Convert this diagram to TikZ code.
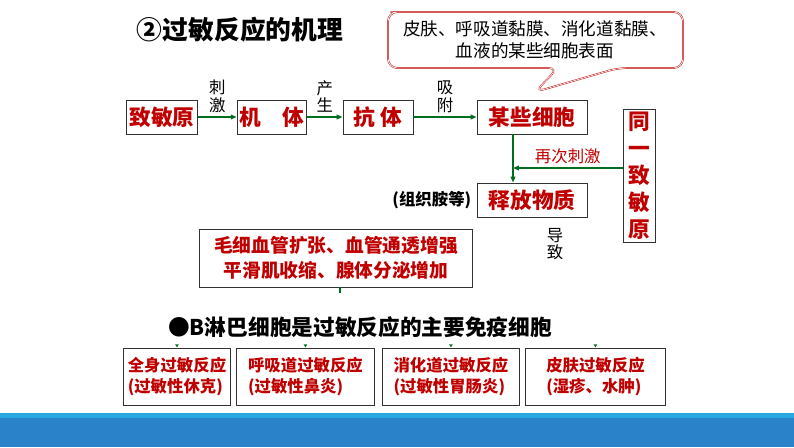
\documentclass[tikz,border=0pt]{standalone}
\usepackage{fontspec}
\setmainfont{Noto Sans CJK SC}
\usetikzlibrary{positioning,arrows.meta}
\definecolor{redtext}{RGB}{192,0,0}
\definecolor{arrowgreen}{RGB}{0,110,30}
\definecolor{barblue}{RGB}{42,130,200}
\definecolor{barlight}{RGB}{41,168,224}
\begin{document}
\begin{tikzpicture}[x=0.03cm,y=-0.03cm]
\tikzstyle{stepbox} = [draw=black!80, thick, font=\fontsize{18.5}{20}\selectfont\bfseries, text=redtext, inner sep=2pt, minimum height=34*0.03cm]
\tikzstyle{flow} = [draw=arrowgreen, very thick, -{Triangle[length=5pt,width=4pt]}]
\tikzstyle{verb} = [font=\fontsize{14}{15}\selectfont, align=center]
\tikzstyle{kind} = [draw=black!80, thick, font=\fontsize{14}{18}\selectfont\bfseries, text=redtext, align=left, minimum height=57*0.03cm, anchor=north west, inner sep=3pt]

\useasboundingbox (0,0) rectangle (794,447);
\fill[barlight] (0,413) rectangle (794,418);
\fill[barblue] (0,418) rectangle (794,447);

\node[font=\fontsize{22}{24}\selectfont\bfseries] (title) at (240,30) {②过敏反应的机理};

% callout
\draw[redtext, double, rounded corners=8pt]
  (400,12) -- (683,12) -- (683,68) -- (618,68) -- (535,92) -- (558,68) -- (388,68) -- (388,12) -- cycle;
\node[verb, font=\fontsize{15}{19}\selectfont] (surface) at (535,40) {皮肤、呼吸道黏膜、消化道黏膜、\\血液的某些细胞表面};

% main chain
\node[stepbox, minimum width=71*0.03cm] (allergen) at (162,117) {致敏原};
\node[stepbox, minimum width=69*0.03cm] (body) at (272,117) {机\quad 体};
\node[stepbox, minimum width=70*0.03cm] (antibody) at (378,117) {抗\ 体};
\node[stepbox, minimum width=110*0.03cm] (cells) at (532,117) {某些细胞};
\node[stepbox, minimum width=110*0.03cm] (release) at (532,200) {释放物质};
\node[stepbox, minimum width=32*0.03cm, align=center, font=\fontsize{18.5}{23}\selectfont\bfseries] (same) at (639,176) {同\\一\\致\\敏\\原};

\draw[flow] (allergen) -- node[verb, above] {刺\\激} (body);
\draw[flow] (body) -- node[verb, above] {产\\生} (antibody);
\draw[flow] (antibody) -- node[verb, above] {吸\\附} (cells);
\coordinate (join) at (513,168);
\draw[flow] (cells.south -| join) -- (release.north -| join);
\draw[flow] (same.west |- join) -- node[above, text=redtext, font=\fontsize{14}{15}\selectfont] {再次刺激} (join);

\node[font=\fontsize{14}{15}\selectfont\bfseries, left=1pt of release] (histamine) {(组织胺等)};
\node[verb] (cause) at (555,244) {导\\致};

\node[draw=black!80, thick, font=\fontsize{16}{21}\selectfont\bfseries, text=redtext, align=center, minimum width=273*0.03cm, minimum height=58*0.03cm] (effect) at (336,258) {毛细血管扩张、血管通透增强\\平滑肌收缩、腺体分泌增加};
\coordinate (tick) at (340,293);
\draw[arrowgreen, very thick] (effect.south -| tick) -- (tick);

\node[font=\fontsize{18.5}{20}\selectfont\bfseries] (bcell) at (360,327) {●B淋巴细胞是过敏反应的主要免疫细胞};

% reaction types
\node[kind, minimum width=107*0.03cm] (systemic) at (123,348) {全身过敏反应\\(过敏性休克)};
\node[kind, minimum width=138*0.03cm] (airway) at (236,348) {呼吸道过敏反应\\(过敏性鼻炎)};
\node[kind, minimum width=137*0.03cm] (digest) at (382,348) {消化道过敏反应\\(过敏性胃肠炎)};
\node[kind, minimum width=140*0.03cm] (skin) at (525,348) {皮肤过敏反应\\(湿疹、水肿)};
\foreach \k in {systemic,airway,digest,skin}
  \fill[arrowgreen] ([yshift=3pt]\k.north) ++(-1.5pt,0) -- ++(3pt,0) -- ([yshift=0.5pt]\k.north) -- cycle;
\end{tikzpicture}
\end{document}
